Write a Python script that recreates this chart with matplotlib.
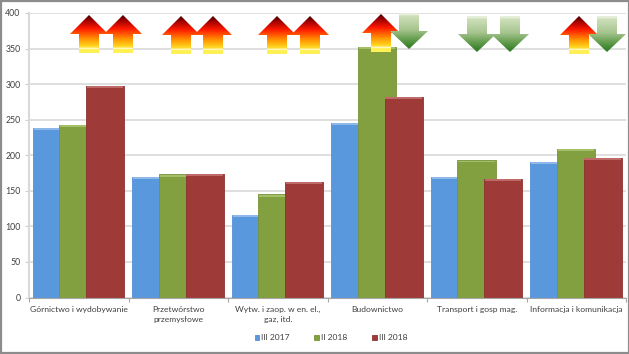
import numpy as np
import matplotlib
matplotlib.use("Agg")
import matplotlib.pyplot as plt
from matplotlib.colors import LinearSegmentedColormap
from matplotlib.patches import Polygon, Rectangle

categories = ["Górnictwo i wydobywanie", "Przetwórstwo\nprzemysłowe",
              "Wytw. i zaop. w en. el.,\ngaz, itd.", "Budownictwo",
              "Transport i gosp mag.", "Informacja i komunikacja"]
series_names = ["III 2017", "II 2018", "III 2018"]
values_2017 = [239, 170, 116, 246, 170, 191]
values_ii_2018 = [243, 173, 145, 352, 193, 209]
values_iii_2018 = [298, 174, 163, 282, 167, 196]
y_ticks = [0, 50, 100, 150, 200, 250, 300, 350, 400]

# arrow direction per category, first and second comparison
arrow_dirs = [("up", "up"), ("up", "up"), ("up", "up"),
              ("up", "down"), ("down", "down"), ("up", "down")]

plt.rcParams["font.family"] = ["Lato", "DejaVu Sans"]

W, H = 629, 354
fig = plt.figure(figsize=(W / 100, H / 100), dpi=100)
ax = fig.add_axes([29 / W, 1 - 297.5 / H, 597 / W, 284.5 / H])

colors = ["#5a98de", "#82a03f", "#9e3a38"]
edges = ["#5590d4", "#76933a", "#8c3230"]
tops = ["#8fb8ea", "#a5bf68", "#bd6a68"]
x = np.arange(len(categories))
for i, vals in enumerate([values_2017, values_ii_2018, values_iii_2018]):
    pos = x + 0.231 + i * 0.2665
    ax.bar(pos, vals, width=0.382, color=colors[i], edgecolor=edges[i],
           linewidth=0.6, label=series_names[i], zorder=2 + i)
    # bevel along the top of each bar
    ax.bar(pos, [2.5] * len(vals), bottom=np.array(vals) - 3, width=0.37,
           color=tops[i], linewidth=0, zorder=2 + i)

ax.set_xlim(0, 6)
ax.set_ylim(0, 400)
ax.set_yticks(y_ticks)
ax.set_xticks(np.arange(7))
ax.set_xticklabels([])
ax.set_xticks(x + 0.5, categories, minor=True)
ax.tick_params(axis="x", which="minor", length=0, pad=6, labelsize=6.1, labelcolor="#404040")
ax.tick_params(axis="x", which="major", length=3, color="#a6a6a6", width=0.8)
ax.tick_params(axis="y", length=3, color="#d0d0d0", labelsize=6.3, labelcolor="#404040", pad=3)
for lab in ax.get_xticklabels(minor=True):
    lab.set_linespacing(1.5)
ax.grid(axis="y", color="#d9d9d9", linewidth=1.2, zorder=0)
ax.set_axisbelow(True)
for s in ["top", "right"]:
    ax.spines[s].set_visible(False)
ax.spines["left"].set_color("#d9d9d9")
ax.spines["left"].set_linewidth(1.5)
ax.spines["bottom"].set_color("#a6a6a6")
ax.spines["bottom"].set_zorder(6)

handles, labels = ax.get_legend_handles_labels()
fig.legend(handles, labels, loc="center", bbox_to_anchor=(331 / W, 1 - 338 / H), ncols=3,
           frameon=False, fontsize=6.1, labelcolor="#404040", handlelength=0.55,
           handleheight=0.55, handletextpad=0.25, columnspacing=2.9)

# overlay in pixel coordinates for the gradient arrows and the frame
ov = fig.add_axes([0, 0, 1, 1], zorder=10)
ov.set_xlim(0, W)
ov.set_ylim(H, 0)
ov.axis("off")
ov.patch.set_alpha(0)

up_cmap = LinearSegmentedColormap.from_list("up", [
    (0, "#4a0000"), (0.14, "#a00000"), (0.36, "#ff1a00"), (0.62, "#ff9000"),
    (0.83, "#ffd820"), (0.865, "#ffe860"), (0.875, "#fffbd0"), (0.90, "#fffbd0"),
    (0.91, "#fff040"), (1, "#fff060")])
down_cmap = LinearSegmentedColormap.from_list("down", [
    (0, "#e6efda"), (0.05, "#e6efda"), (0.07, "#cfe0bb"), (0.45, "#a8c690"),
    (0.75, "#5f9a4a"), (1, "#2a7a1e")])
grad = np.linspace(0, 1, 100).reshape(-1, 1)


def draw_arrow(cx, top, direction):
    length, hw, sw = 38, 19, 10
    if direction == "up":
        head = top + 19
        pts = [(cx, top), (cx + hw, head), (cx + sw, head), (cx + sw, top + length),
               (cx - sw, top + length), (cx - sw, head), (cx - hw, head)]
        cmap = up_cmap
    else:
        length = 36
        head = top + 18
        pts = [(cx - sw, top), (cx + sw, top), (cx + sw, head), (cx + hw, head),
               (cx, top + length), (cx - hw, head), (cx - sw, head)]
        cmap = down_cmap
    im = ov.imshow(grad, cmap=cmap, aspect="auto", zorder=3,
                   extent=(cx - hw, cx + hw, top + length, top), interpolation="bilinear")
    clip = Polygon(pts, closed=True, transform=ov.transData, facecolor="none", edgecolor="none")
    ov.add_patch(clip)
    im.set_clip_path(clip)


arrow_x = [(89, 123), (181, 213), (277, 310), (381, 409), (477, 510), (579, 607)]
arrow_top = [(15, 15), (16, 16), (16, 16), (14, 13), (16, 16), (16, 16)]
for c in range(len(categories)):
    for k in range(2):
        draw_arrow(arrow_x[c][k], arrow_top[c][k], arrow_dirs[c][k])
ov.set_xlim(0, W)
ov.set_ylim(H, 0)

ov.add_patch(Rectangle((0.5, 0.5), W - 1, H - 1.5, facecolor="none", edgecolor="#8c8c8c", linewidth=1.6))

fig.savefig("out.png", dpi=100)
